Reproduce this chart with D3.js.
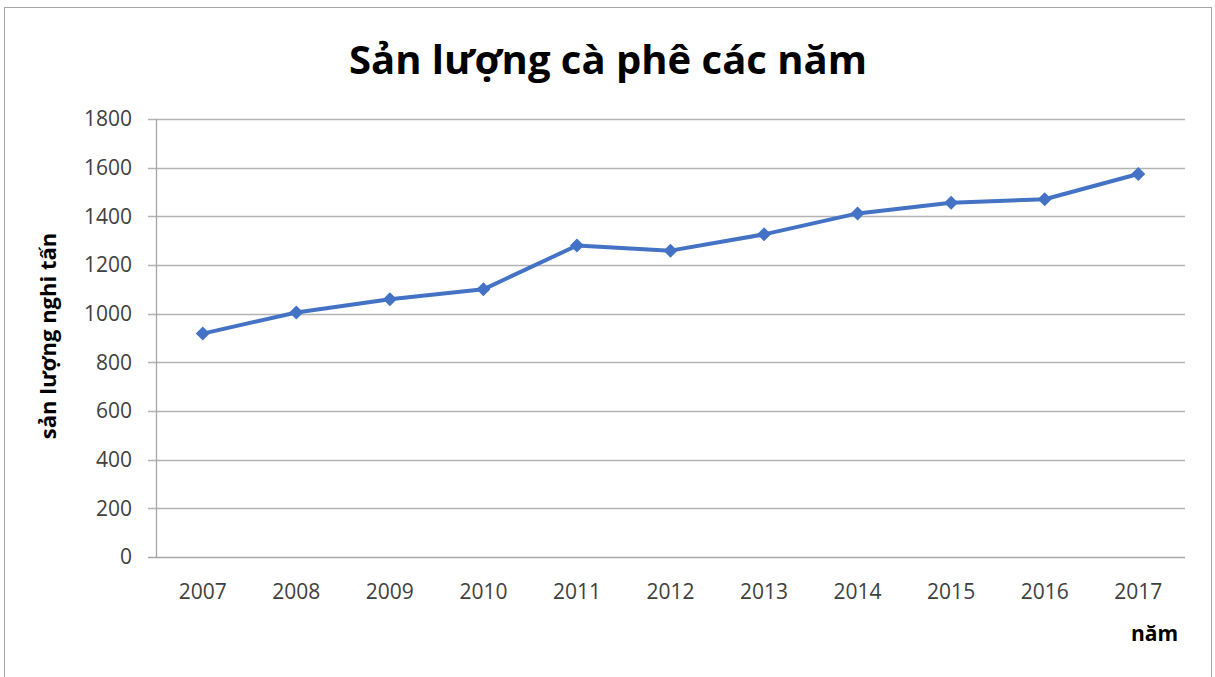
<!DOCTYPE html>
<html>
<head>
<meta charset="utf-8">
<script src="https://cdn.jsdelivr.net/npm/d3@7"></script>
<style>
  body { margin: 0; background: #fff; }
  text { font-family: "Open Sans", "Noto Sans", sans-serif; }
</style>
</head>
<body>
<svg id="chart" width="1215" height="677"></svg>
<script>
var years = ["2007", "2008", "2009", "2010", "2011", "2012", "2013", "2014", "2015", "2016", "2017"];
var production = [918, 1005, 1059, 1100, 1280, 1259, 1326, 1412, 1456, 1470, 1574];
var yTicks = [0, 200, 400, 600, 800, 1000, 1200, 1400, 1600, 1800];

var svg = d3.select("#chart");

// frame
svg.append("rect")
    .attr("x", 4.5)
    .attr("y", 7.5)
    .attr("width", 1207)
    .attr("height", 680)
    .attr("fill", "#fff")
    .attr("stroke", "#a6a6a6")
    .attr("stroke-width", 1);

var plotLeft = 156, plotRight = 1185, plotTop = 119, plotBottom = 557;

var x = d3.scaleBand()
    .domain(years)
    .range([plotLeft, plotRight]);

var y = d3.scaleLinear()
    .domain([0, 1800])
    .range([plotBottom, plotTop]);

// gridlines
svg.append("g")
    .selectAll("line")
    .data(yTicks)
  .enter()
  .append("line")
    .attr("x1", plotLeft - 8)
    .attr("x2", plotRight)
    .attr("y1", d => Math.round(y(d)) + 0.5)
    .attr("y2", d => Math.round(y(d)) + 0.5)
    .attr("stroke", d => d === 0 ? "#a6a6a6" : "#b3b3b3")
    .attr("stroke-width", 1.3);

// y axis line
svg.append("line")
    .attr("x1", plotLeft + 0.5)
    .attr("x2", plotLeft + 0.5)
    .attr("y1", plotTop)
    .attr("y2", plotBottom)
    .attr("stroke", "#a6a6a6")
    .attr("stroke-width", 1.3);

// y tick labels
svg.append("g")
    .selectAll("text")
    .data(yTicks)
  .enter()
  .append("text")
    .attr("x", 132)
    .attr("y", d => y(d))
    .attr("dy", "0.35em")
    .style("text-anchor", "end")
    .style("font-size", "21px")
    .style("fill", "#404040")
    .text(d => d);

// x tick labels
svg.append("g")
    .selectAll("text")
    .data(years)
  .enter()
  .append("text")
    .attr("x", d => x(d) + x.bandwidth() / 2)
    .attr("y", 592)
    .attr("dy", "0.35em")
    .style("text-anchor", "middle")
    .style("font-size", "21px")
    .style("fill", "#404040")
    .text(d => d);

// line
var line = d3.line()
    .x((d, i) => x(years[i]) + x.bandwidth() / 2)
    .y(d => y(d));

svg.append("path")
    .datum(production)
    .attr("d", line)
    .attr("fill", "none")
    .attr("stroke", "#4472c4")
    .attr("stroke-width", 4)
    .attr("stroke-linejoin", "round");

// diamond markers
svg.append("g")
    .selectAll("path")
    .data(production)
  .enter()
  .append("path")
    .attr("transform", (d, i) => "translate(" + (x(years[i]) + x.bandwidth() / 2) + "," + y(d) + ")")
    .attr("d", d3.symbol().type(d3.symbolDiamond2).size(125))
    .attr("fill", "#4472c4");

// title
svg.append("text")
    .attr("x", 608)
    .attr("y", 60)
    .attr("dy", "0.35em")
    .style("text-anchor", "middle")
    .style("font-size", "40px")
    .style("font-weight", "bold")
    .style("fill", "#000")
    .text("Sản lượng cà phê các năm");

// y axis title
svg.append("text")
    .attr("transform", "translate(48, 336) rotate(-90)")
    .attr("dy", "0.35em")
    .style("text-anchor", "middle")
    .style("font-size", "22px")
    .style("font-weight", "bold")
    .style("fill", "#000")
    .text("sản lượng nghi tấn");

// x axis title
svg.append("text")
    .attr("x", 1178)
    .attr("y", 634)
    .attr("dy", "0.35em")
    .style("text-anchor", "end")
    .style("font-size", "21px")
    .style("font-weight", "bold")
    .style("fill", "#000")
    .text("năm");
</script>
</body>
</html>
